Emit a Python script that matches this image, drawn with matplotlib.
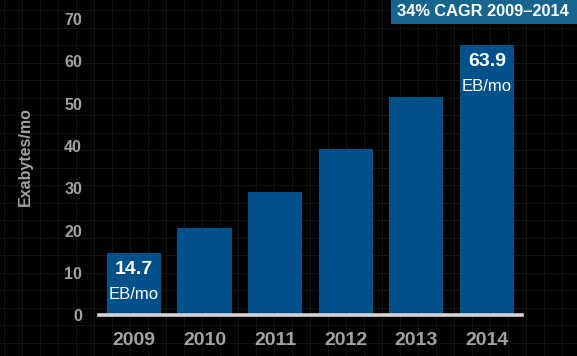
import matplotlib.pyplot as plt
from matplotlib.patches import Rectangle
import numpy as np

years = ['2009', '2010', '2011', '2012', '2013', '2014']
traffic = [14.7, 20.5, 29.0, 39.4, 51.7, 63.9]
yticks = [0, 10, 20, 30, 40, 50, 60, 70]
callout = "34% CAGR 2009\u20132014"

bar_col = '#00508a'
box_col = '#17648f'
grey = '#a3a3a3'

plt.rcParams['font.family'] = ['Liberation Sans', 'DejaVu Sans']

fig = plt.figure(figsize=(5.77, 3.56), dpi=100, facecolor='black')

# faint slide grid in the background
bg = fig.add_axes([0, 0, 1, 1], zorder=-5)
bg.set_facecolor('black')
bg.set_xlim(0, 577)
bg.set_ylim(356, 0)
bg.set_xticks(np.arange(4, 577, 18))
bg.set_yticks(np.arange(10, 356, 17.5))
bg.grid(True, color='#121212', lw=0.8)
bg.tick_params(length=0, labelbottom=False, labelleft=False)
for s in bg.spines.values():
    s.set_visible(False)

ax = fig.add_axes([0.171, 0.115, 0.734, 0.831])
ax.patch.set_alpha(0)
x = np.arange(len(years))
ax.bar(x, traffic, width=0.77, color=bar_col, zorder=2)
ax.axhline(0, color='#d4d4d4', lw=2.6, zorder=3, clip_on=False)
ax.set_xlim(-0.5, len(years) - 0.5)
ax.set_ylim(0, 70)
ax.set_yticks(yticks)
ax.set_xticks(x)
ax.set_xticklabels(years, fontsize=14, fontweight='bold', color=grey)
ax.set_yticklabels([str(t) for t in yticks], fontsize=11.5, fontweight='bold', color=grey)
ax.tick_params(axis='x', length=0, pad=12)
ax.tick_params(axis='y', length=0, pad=12)
for s in ax.spines.values():
    s.set_visible(False)

fig.text(25 / 577, 1 - 157 / 356, 'Exabytes/mo', rotation=90, ha='center', va='center',
         fontsize=11.5, fontweight='bold', color=grey)

# value labels on first and last bars
for i in (0, len(years) - 1):
    ax.annotate(f'{traffic[i]}', (x[i], traffic[i]), xytext=(0, -12), textcoords='offset points',
                ha='center', va='center', color='white', fontsize=14, fontweight='bold', zorder=4)
    ax.annotate('EB/mo', (x[i], traffic[i]), xytext=(0, -30), textcoords='offset points',
                ha='center', va='center', color='white', fontsize=12, zorder=4)

# CAGR callout box in the top right corner
fig.patches.append(Rectangle((391 / 577, 1 - 24 / 356), 186 / 577, 24 / 356,
                             transform=fig.transFigure, fc=box_col, ec='none', zorder=1))
fig.text(483 / 577, 1 - 12 / 356, callout, ha='center', va='center', color='white',
         fontsize=11.8, fontweight='bold', zorder=2)

fig.savefig('out.png', dpi=100, facecolor='black')
